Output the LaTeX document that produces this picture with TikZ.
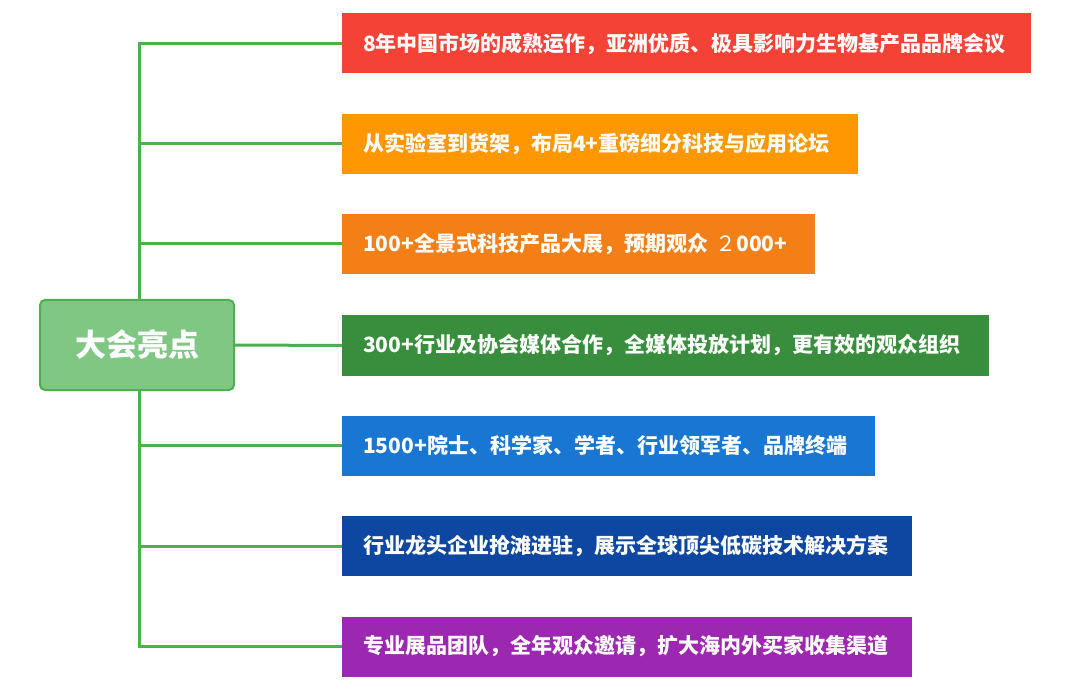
\documentclass[tikz,border=0pt]{standalone}
\usepackage{fontspec}
\setmainfont{Noto Sans CJK SC}
\definecolor{lred}{HTML}{F44336}
\definecolor{lamber}{HTML}{FF9800}
\definecolor{lorange}{HTML}{F57F17}
\definecolor{lgreen}{HTML}{388E3C}
\definecolor{lblue}{HTML}{1976D2}
\definecolor{ldblue}{HTML}{0D47A1}
\definecolor{lpurple}{HTML}{9C27B0}
\definecolor{rootfill}{HTML}{81C784}
\definecolor{linec}{HTML}{4CAF50}
\begin{document}
\begin{tikzpicture}[x=1pt,y=-1pt,
  itembox/.style={anchor=west, minimum height=60pt, inner xsep=21pt, inner ysep=0pt,
    text=white, font=\fontsize{21}{25}\selectfont\bfseries, text width=#1-42pt, align=left},
  rootbox/.style={rounded corners=5pt, fill=rootfill, draw=linec, line width=2pt,
    minimum width=194pt, minimum height=90pt, text=white, font=\fontsize{31}{36}\selectfont\bfseries},
  conn/.style={draw=linec, line width=3pt}]
\useasboundingbox (0,0) rectangle (1080,695);
\node[itembox=689pt, fill=lred] (b1) at (342,43.5) {8年中国市场的成熟运作，亚洲优质、极具影响力生物基产品品牌会议};
\node[itembox=516pt, fill=lamber] (b2) at (342,144) {从实验室到货架，布局4+重磅细分科技与应用论坛};
\node[itembox=473pt, fill=lorange] (b3) at (342,244) {100+全景式科技产品大展，预期观众 {\mdseries ２}000+};
\node[itembox=647pt, fill=lgreen] (b4) at (342,345.5) {300+行业及协会媒体合作，全媒体投放计划，更有效的观众组织};
\node[itembox=533pt, fill=lblue] (b5) at (342,445.5) {1500+院士、科学家、学者、行业领军者、品牌终端};
\node[itembox=570pt, fill=ldblue] (b6) at (342,546) {行业龙头企业抢滩进驻，展示全球顶尖低碳技术解决方案};
\node[itembox=570pt, fill=lpurple] (b7) at (342,646.5) {专业展品团队，全年观众邀请，扩大海内外买家收集渠道};
\path[conn] (b1.west) -| (139,345);
\path[conn] (b2.west) -| (139,345);
\path[conn] (b3.west) -| (139,345);
\path[conn] (b5.west) -| (139,345);
\path[conn] (b6.west) -| (139,345);
\path[conn] (b7.west) -| (139,345);
\node[rootbox] (root) at (137,345) {大会亮点};
\path[conn] (root.east) -- (b4.west);
\end{tikzpicture}
\end{document}
